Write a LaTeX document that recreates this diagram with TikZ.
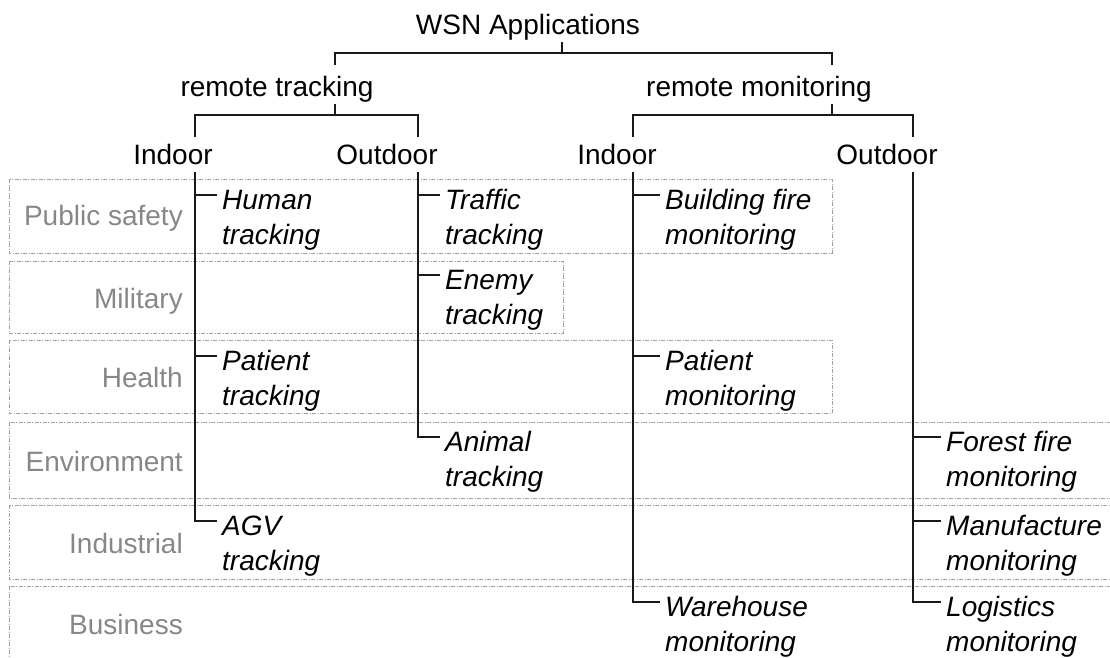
\documentclass[tikz,border=0pt]{standalone}
\usepackage{fontspec}
\setmainfont{Liberation Sans}
\definecolor{catgray}{RGB}{135,135,135}
\definecolor{bandgray}{RGB}{160,160,160}
\definecolor{linecol}{RGB}{25,25,25}
\begin{document}
\begin{tikzpicture}[x=1pt,y=-1pt,
  treelbl/.style={font=\fontsize{28}{34}\selectfont, inner sep=0pt, text depth=8pt, anchor=base},
  cat/.style={font=\fontsize{28}{34}\selectfont, text=catgray, inner sep=0pt, anchor=base east},
  app/.style={font=\fontsize{28}{35}\selectfont\itshape, align=left, inner xsep=5pt, inner ysep=0pt, anchor=north west},
  link/.style={line width=1.7pt, draw=linecol},
  band/.style={draw=bandgray, line width=0.9pt, dash pattern=on 4pt off 1.5pt on 1pt off 1.5pt}
]
\useasboundingbox (0,0) rectangle (1110,657);
\clip (0,0) rectangle (1110,657);

% application-area bands
\draw[band] (9,179) rectangle (832,253);
\draw[band] (9,261) rectangle (563,333);
\draw[band] (9,340) rectangle (832,413);
\draw[band] (9,422) rectangle (1120,498);
\draw[band] (9,505) rectangle (1120,579);
\draw[band] (9,586) rectangle (1120,670);

% area names
\node[cat] (cps)  at (183,225) {Public safety};
\node[cat] (cmil) at (183,308) {Military};
\node[cat] (chea) at (183,387) {Health};
\node[cat] (cenv) at (183,471) {Environment};
\node[cat] (cind) at (183,553) {Industrial};
\node[cat] (cbus) at (183,634) {Business};

% tree headings
\node[treelbl] (wsn) at (528,34) {WSN Applications};
\node[treelbl, text height=31pt] (rt) at (277,96) {remote tracking};
\node[treelbl, text height=31pt] (rm) at (759,96) {remote monitoring};
\node[treelbl, text height=27pt] (tin)  at (173,164) {Indoor};
\node[treelbl, text height=27pt] (tout) at (387,164) {Outdoor};
\node[treelbl, text height=27pt] (min)  at (617,164) {Indoor};
\node[treelbl, text height=27pt] (mout) at (887,164) {Outdoor};

% tree connectors
\draw[link] ([xshift=34pt]wsn.south) -- ++(0,11);
\draw[link] ([xshift=58pt]rt.north) -- ++(0,-12) -| ([xshift=73pt]rm.north);
\draw[link] ([xshift=58pt]rt.south) -- ++(0,11);
\draw[link] ([xshift=73pt]rm.south) -- ++(0,11);
\draw[link] ([xshift=22pt]tin.north) -- ++(0,-22) -| ([xshift=31pt]tout.north);
\draw[link] ([xshift=16pt]min.north) -- ++(0,-22) -| ([xshift=26pt]mout.north);

% column heads
\coordinate (ctin)  at ([xshift=22pt]tin.south);
\coordinate (ctout) at ([xshift=31pt]tout.south);
\coordinate (cmin)  at ([xshift=16pt]min.south);
\coordinate (cmout) at ([xshift=26pt]mout.south);

% applications
\node[app] (human)   at (217,188) {\rule{0pt}{21pt}Human\\tracking};
\node[app] (patT)    at (217,349) {\rule{0pt}{21pt}Patient\\tracking};
\node[app] (agv)     at (217,514) {\rule{0pt}{21pt}AGV\\tracking};
\node[app] (traffic) at (440,188) {\rule{0pt}{21pt}Traffic\\tracking};
\node[app] (enemy)   at (440,268) {\rule{0pt}{21pt}Enemy\\tracking};
\node[app] (animal)  at (440,430) {\rule{0pt}{21pt}Animal\\tracking};
\node[app] (bfire)   at (660,188) {\rule{0pt}{21pt}Building fire\\monitoring};
\node[app] (patM)    at (660,349) {\rule{0pt}{21pt}Patient\\monitoring};
\node[app] (whouse)  at (660,595) {\rule{0pt}{21pt}Warehouse\\monitoring};
\node[app] (ffire)   at (941,430) {\rule{0pt}{21pt}Forest fire\\monitoring};
\node[app] (manuf)   at (941,514) {\rule{0pt}{21pt}Manufacture\\monitoring};
\node[app] (logist)  at (941,595) {\rule{0pt}{21pt}Logistics\\monitoring};

% branches
\foreach \c/\a in {ctin/human, ctin/patT, ctin/agv,
                   ctout/traffic, ctout/enemy, ctout/animal,
                   cmin/bfire, cmin/patM, cmin/whouse,
                   cmout/ffire, cmout/manuf, cmout/logist}
  \draw[link] (\c) |- ([yshift=-7pt]\a.north west);
\end{tikzpicture}
\end{document}
